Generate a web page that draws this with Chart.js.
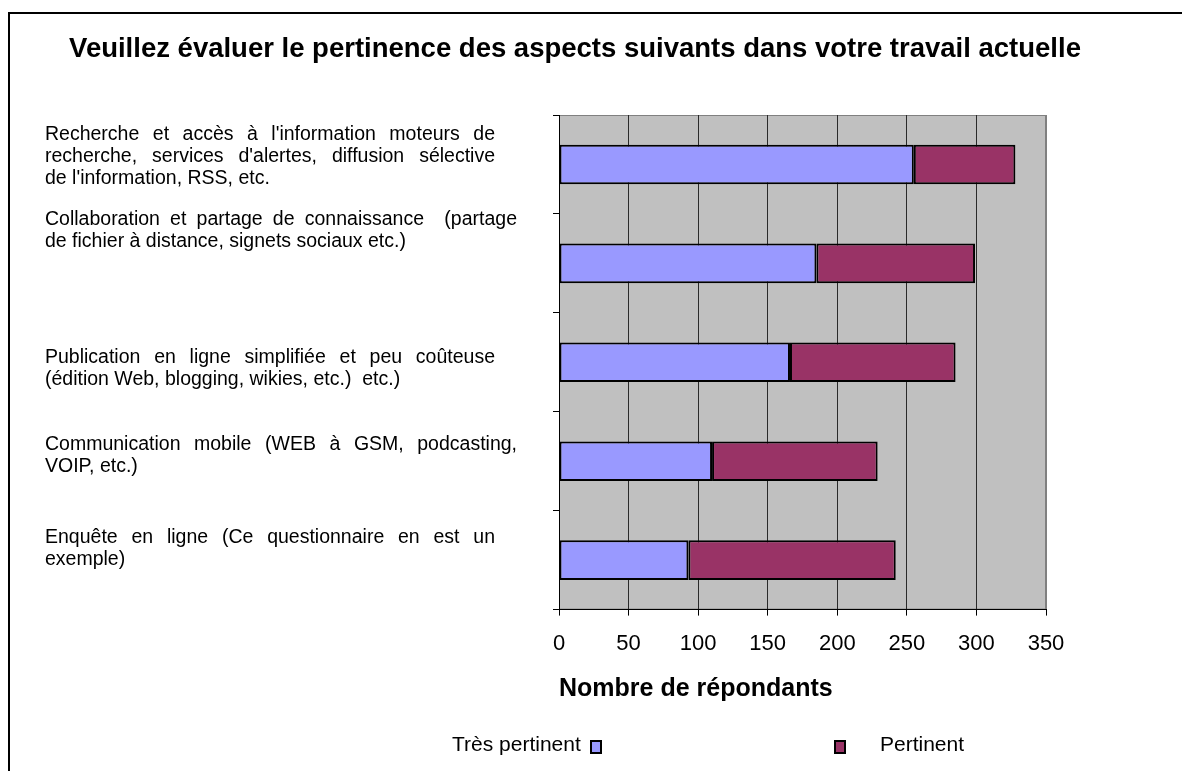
<!DOCTYPE html>
<html>
<head>
<meta charset="utf-8">
<script src="https://cdn.jsdelivr.net/npm/chart.js@4.4.1/dist/chart.umd.min.js"></script>
<style>
html,body{margin:0;padding:0;background:#fff;}
#wrap{position:relative;width:1182px;height:771px;overflow:hidden;font-family:"Liberation Sans",Arial,sans-serif;color:#000;}
#frame{position:absolute;left:8px;top:12px;width:1300px;height:900px;border-top:2px solid #000;border-left:2px solid #000;}
#title{position:absolute;left:0;width:1150px;top:32px;text-align:center;font-weight:bold;font-size:27.5px;line-height:32px;white-space:nowrap;}
canvas{position:absolute;left:0;top:0;}
.legtxt{position:absolute;font-size:21px;line-height:26px;top:731px;}
.legbox{position:absolute;width:8px;height:10px;border:2px solid #000;top:740px;}
</style>
</head>
<body>
<div id="wrap">
  <canvas id="c" width="1182" height="771"></canvas>
  <div id="frame"></div>
  <div id="title">Veuillez évaluer le pertinence des aspects suivants dans votre travail actuelle</div>
  <div class="legtxt" style="left:452px;">Très pertinent</div>
  <div class="legbox" style="left:590px;background:#9999FF;"></div>
  <div class="legbox" style="left:834px;background:#993366;"></div>
  <div class="legtxt" style="left:880px;">Pertinent</div>
</div>
<script>
const categories = [
  ["Recherche et accès à l'information moteurs de", "recherche, services d'alertes, diffusion sélective", "de l'information, RSS, etc."],
  ["Collaboration et partage de connaissance  (partage", "de fichier à distance, signets sociaux etc.)"],
  ["Publication en ligne simplifiée et peu coûteuse", "(édition Web, blogging, wikies, etc.)  etc.)"],
  ["Communication mobile (WEB à GSM, podcasting,", "VOIP, etc.)"],
  ["Enquête en ligne (Ce questionnaire en est un", "exemple)"]
];
const tresPertinent = [255, 185, 166, 110, 93];
const pertinent = [73, 114, 119, 119, 149];
const seriesNames = ["Très pertinent", "Pertinent"];
const xMin = 0, xMax = 350, xStep = 50;
const axisTitle = "Nombre de répondants";

// layout of the category text boxes (justified paragraphs, as in the original sheet)
const labelBoxWidth = [450, 472, 450, 472, 450];
const labelShift = [-8, -33, 6, -6, -12];
const LABEL_LINE = 22;
const LABEL_FONT = 19.5;

const FONT = '"Liberation Sans", Arial, sans-serif';

const plotBg = {
  id: 'plotBg',
  beforeDraw(chart) {
    const a = chart.chartArea, ctx = chart.ctx;
    ctx.save();
    ctx.fillStyle = '#C0C0C0';
    ctx.fillRect(a.left, a.top, a.right - a.left, a.bottom - a.top);
    ctx.strokeStyle = '#808080';
    ctx.lineWidth = 1;
    ctx.strokeRect(a.left + 0.5, a.top + 0.5, a.right - a.left - 1, a.bottom - a.top - 1);
    ctx.restore();
  }
};

const yLabels = {
  id: 'yLabels',
  afterDraw(chart) {
    const ys = chart.scales.y, ctx = chart.ctx;
    ctx.save();
    ctx.font = LABEL_FONT + 'px ' + FONT;
    ctx.fillStyle = '#000';
    ctx.textBaseline = 'middle';
    ctx.textAlign = 'left';
    categories.forEach((lines, i) => {
      const cy = ys.getPixelForValue(i) + labelShift[i];
      const y0 = cy - (lines.length - 1) * LABEL_LINE / 2;
      lines.forEach((line, j) => {
        const y = y0 + j * LABEL_LINE;
        const x0 = ys.left;
        if (j === lines.length - 1) { ctx.fillText(line, x0, y); return; }
        const words = line.split(' ');
        const widths = words.map(w => ctx.measureText(w).width);
        const total = widths.reduce((a, b) => a + b, 0);
        const gap = Math.max(ctx.measureText(' ').width, (labelBoxWidth[i] - total) / (words.length - 1));
        let x = x0;
        words.forEach((w, k) => { if (w) ctx.fillText(w, x, y); x += widths[k] + gap; });
      });
    });
    ctx.restore();
  }
};

new Chart(document.getElementById('c'), {
  type: 'bar',
  data: {
    labels: categories,
    datasets: [
      { label: seriesNames[0], data: tresPertinent, backgroundColor: '#9999FF', borderColor: '#000', borderWidth: 2, borderSkipped: false },
      { label: seriesNames[1], data: pertinent, backgroundColor: '#993366', borderColor: '#000', borderWidth: 2, borderSkipped: false }
    ]
  },
  options: {
    indexAxis: 'y',
    responsive: false,
    animation: false,
    devicePixelRatio: 1,
    barPercentage: 0.4,
    categoryPercentage: 1.0,
    layout: { padding: { left: 45, right: 136, top: 115, bottom: 67 } },
    plugins: {
      legend: { display: false },
      tooltip: { enabled: false },
      title: { display: false }
    },
    scales: {
      x: {
        type: 'linear',
        stacked: true,
        min: xMin, max: xMax,
        ticks: { stepSize: xStep, color: '#000', font: { family: FONT, size: 22 }, padding: 15 },
        grid: {
          color: (ctx) => (ctx.tick && ctx.tick.value === xMax) ? '#808080' : '#2a2a2a',
          lineWidth: 1,
          tickLength: 6,
          tickColor: '#000',
          drawTicks: true
        },
        border: { color: '#000', width: 1 },
        title: { display: true, text: axisTitle, color: '#000', font: { family: FONT, size: 25, weight: 'bold' }, align: 'start', padding: { top: 2, bottom: 0 } }
      },
      y: {
        type: 'category',
        stacked: true,
        offset: true,
        grid: { offset: true, drawOnChartArea: false, tickLength: 6, tickColor: '#000', color: '#000' },
        border: { color: '#000', width: 1 },
        ticks: { display: false, autoSkip: false },
        afterFit(scale) { scale.width = 514; }
      }
    }
  },
  plugins: [plotBg, yLabels]
});
</script>
</body>
</html>
